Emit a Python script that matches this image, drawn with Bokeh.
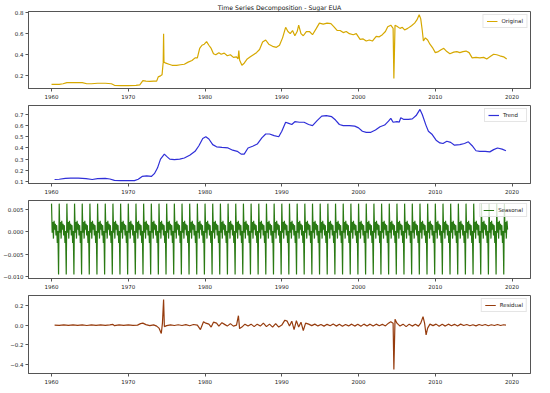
import numpy as np
from bokeh.plotting import figure
from bokeh.models import Range1d, FixedTicker, CustomJSTickFormatter, Legend, LegendItem, ColumnDataSource
from bokeh.layouts import column
from bokeh.embed import file_html
from bokeh.resources import INLINE

TITLE = "Time Series Decomposition - Sugar EUA"
X_TICKS = [1960, 1970, 1980, 1990, 2000, 2010, 2020]

# ---------------- data ----------------
orig_year = [1960.0, 1961.0, 1961.5, 1962.0, 1963.0, 1964.0, 1964.6, 1965.2, 1966.0, 1967.0, 1967.8, 1968.2,
             1969.0, 1970.0, 1971.0, 1971.5, 1971.9, 1972.3, 1972.8, 1973.3, 1973.7, 1973.9, 1974.2, 1974.4,
             1974.55, 1974.6, 1974.65, 1974.9, 1975.3, 1975.7, 1976.3, 1976.8, 1977.3, 1977.8, 1978.3, 1978.7,
             1979.0, 1979.3, 1979.6, 1979.9, 1980.2, 1980.5, 1980.8, 1981.1, 1981.4, 1981.8, 1982.1, 1982.5,
             1982.9, 1983.3, 1983.7, 1984.1, 1984.3, 1984.4, 1984.5, 1984.8, 1985.1, 1985.5, 1985.9, 1986.3,
             1986.7, 1987.1, 1987.5, 1987.9, 1988.3, 1988.8, 1989.3, 1989.7, 1990.1, 1990.5, 1990.8, 1991.1,
             1991.4, 1991.7, 1992.0, 1992.2, 1992.5, 1992.8, 1993.2, 1993.6, 1994.0, 1994.5, 1994.9, 1995.4,
             1995.9, 1996.4, 1996.8, 1997.2, 1997.6, 1998.0, 1998.4, 1998.8, 1999.3, 1999.7, 2000.2, 2000.6,
             2001.0, 2001.4, 2001.8, 2002.3, 2002.7, 2003.1, 2003.5, 2003.8, 2004.2, 2004.5, 2004.6, 2004.75,
             2005.0, 2005.4, 2005.7, 2006.0, 2006.4, 2006.9, 2007.3, 2007.6, 2007.9, 2008.1, 2008.3, 2008.45,
             2008.7, 2009.0, 2009.3, 2009.7, 2010.0, 2010.4, 2010.8, 2011.1, 2011.5, 2011.9, 2012.4, 2012.8,
             2013.2, 2013.6, 2014.0, 2014.4, 2014.8, 2015.3, 2015.8, 2016.3, 2016.7, 2017.2, 2017.6, 2018.0,
             2018.4, 2018.9, 2019.3]
orig_value = [0.12, 0.12, 0.125, 0.135, 0.135, 0.135, 0.125, 0.125, 0.13, 0.13, 0.125, 0.11,
              0.108, 0.108, 0.11, 0.115, 0.155, 0.15, 0.148, 0.15, 0.15, 0.19, 0.2, 0.21,
              0.33, 0.6, 0.33, 0.32, 0.31, 0.30, 0.30, 0.305, 0.31, 0.33, 0.345, 0.37,
              0.37, 0.46, 0.49, 0.50, 0.525, 0.49, 0.46, 0.41, 0.40, 0.42, 0.405, 0.415,
              0.39, 0.40, 0.375, 0.38, 0.36, 0.44, 0.35, 0.30, 0.32, 0.36, 0.38, 0.40,
              0.42, 0.45, 0.52, 0.54, 0.50, 0.48, 0.47, 0.49, 0.56, 0.66, 0.62, 0.60,
              0.63, 0.58, 0.62, 0.68, 0.60, 0.58, 0.62, 0.62, 0.59, 0.65, 0.70, 0.69,
              0.70, 0.695, 0.665, 0.63, 0.63, 0.61, 0.62, 0.60, 0.59, 0.60, 0.545, 0.55,
              0.53, 0.54, 0.53, 0.575, 0.57, 0.59, 0.62, 0.665, 0.68, 0.65, 0.175, 0.68,
              0.67, 0.65, 0.66, 0.635, 0.65, 0.675, 0.70, 0.73, 0.78, 0.74, 0.63, 0.53,
              0.56, 0.54, 0.50, 0.46, 0.42, 0.43, 0.45, 0.46, 0.43, 0.41, 0.425, 0.43,
              0.42, 0.43, 0.435, 0.42, 0.37, 0.375, 0.37, 0.375, 0.36, 0.385, 0.405, 0.40,
              0.39, 0.38, 0.36]

trend_year = [1960.4, 1961.0, 1961.8, 1962.5, 1963.5, 1964.5, 1965.3, 1966.0, 1967.0, 1967.6, 1968.2, 1969.0,
              1970.0, 1970.8, 1971.3, 1971.8, 1972.4, 1973.0, 1973.4, 1973.8, 1974.2, 1974.7, 1975.0, 1975.4,
              1976.0, 1976.7, 1977.3, 1978.0, 1978.7, 1979.2, 1979.7, 1980.1, 1980.5, 1981.0, 1981.5, 1982.2,
              1983.0, 1983.6, 1984.2, 1984.7, 1985.1, 1985.6, 1986.2, 1986.8, 1987.4, 1987.9, 1988.4, 1989.0,
              1989.6, 1990.0, 1990.5, 1990.9, 1991.3, 1991.7, 1992.3, 1992.9, 1993.5, 1994.0, 1994.6, 1995.2,
              1995.8, 1996.5, 1997.0, 1997.5, 1998.0, 1998.8, 1999.5, 2000.0, 2000.5, 2001.0, 2001.6, 2002.2,
              2002.8, 2003.4, 2003.9, 2004.2, 2004.5, 2005.0, 2005.3, 2005.5, 2005.9, 2006.5, 2007.0, 2007.5,
              2008.0, 2008.3, 2008.8, 2009.1, 2009.6, 2010.1, 2010.6, 2011.0, 2011.5, 2012.0, 2012.5, 2013.2,
              2013.8, 2014.3, 2014.8, 2015.3, 2015.8, 2016.5, 2017.1, 2017.6, 2018.1, 2018.7, 2019.2]
trend_value = [0.118, 0.12, 0.128, 0.13, 0.13, 0.125, 0.118, 0.125, 0.128, 0.122, 0.11, 0.107,
               0.107, 0.108, 0.12, 0.145, 0.15, 0.145, 0.17, 0.22, 0.30, 0.345, 0.325, 0.30,
               0.295, 0.30, 0.31, 0.335, 0.37, 0.42, 0.485, 0.50, 0.48, 0.43, 0.41, 0.405,
               0.40, 0.38, 0.37, 0.345, 0.345, 0.40, 0.415, 0.435, 0.49, 0.525, 0.525, 0.51,
               0.50, 0.55, 0.63, 0.62, 0.61, 0.635, 0.63, 0.63, 0.61, 0.60, 0.645, 0.685,
               0.69, 0.68, 0.65, 0.61, 0.60, 0.60, 0.595, 0.58, 0.55, 0.54, 0.54, 0.56,
               0.59, 0.605, 0.64, 0.665, 0.63, 0.635, 0.632, 0.67, 0.655, 0.655, 0.66, 0.69,
               0.745, 0.70, 0.60, 0.55, 0.52, 0.47, 0.445, 0.44, 0.46, 0.45, 0.425, 0.43,
               0.44, 0.455, 0.42, 0.375, 0.37, 0.37, 0.365, 0.385, 0.40, 0.39, 0.375]

# one year of the seasonal component (Jan..Dec); it repeats every year
seasonal_month_value = [0.0063, -0.0002, 0.0022, -0.0015, 0.0025, 0.0005,
                        0.0018, -0.0008, 0.0015, -0.0025, 0.0002, -0.0095]
seasonal_first_year = 1960
seasonal_n_months = 714

resid_year = [1960.4, 1961.0, 1961.6, 1962.2, 1962.8, 1963.4, 1964.0, 1964.6, 1965.2, 1965.8, 1966.4, 1967.0,
              1967.6, 1968.0, 1968.2, 1968.8, 1969.4, 1970.0, 1970.6, 1971.2, 1971.6, 1971.9, 1972.3, 1972.8,
              1973.3, 1973.7, 1974.0, 1974.3, 1974.45, 1974.6, 1974.7, 1975.0, 1975.5, 1976.0, 1976.5, 1977.0,
              1977.5, 1978.0, 1978.5, 1979.0, 1979.4, 1979.8, 1980.1, 1980.5, 1980.8, 1981.1, 1981.5, 1981.8,
              1982.2, 1982.6, 1982.9, 1983.3, 1983.7, 1984.1, 1984.35, 1984.5, 1984.8, 1985.2, 1985.6, 1986.0,
              1986.4, 1986.8, 1987.2, 1987.6, 1988.0, 1988.4, 1988.8, 1989.2, 1989.6, 1990.0, 1990.4, 1990.7,
              1991.0, 1991.3, 1991.6, 1991.9, 1992.2, 1992.5, 1992.8, 1993.1, 1993.5, 1993.9, 1994.3, 1994.7,
              1995.1, 1995.5, 1995.9, 1996.3, 1996.7, 1997.1, 1997.5, 1997.9, 1998.3, 1998.7, 1999.1, 1999.5,
              1999.9, 2000.3, 2000.7, 2001.1, 2001.5, 2001.9, 2002.3, 2002.7, 2003.1, 2003.5, 2003.9, 2004.2,
              2004.5, 2004.6, 2004.75, 2005.0, 2005.4, 2005.8, 2006.2, 2006.6, 2007.0, 2007.4, 2007.8, 2008.1,
              2008.4, 2008.6, 2008.8, 2009.0, 2009.3, 2009.7, 2010.1, 2010.5, 2010.9, 2011.3, 2011.7, 2012.1,
              2012.5, 2012.9, 2013.3, 2013.7, 2014.1, 2014.5, 2014.9, 2015.3, 2015.7, 2016.1, 2016.5, 2016.9,
              2017.3, 2017.7, 2018.1, 2018.5, 2018.9, 2019.2]
resid_value = [0.0, -0.003, 0.002, -0.002, 0.003, -0.002, 0.002, -0.004, 0.003, -0.002, 0.002, -0.002,
               0.003, 0.008, -0.006, 0.002, -0.002, 0.002, -0.002, 0.0, 0.015, 0.02, 0.005, -0.005,
               0.003, -0.01, -0.03, -0.085, 0.02, 0.26, -0.015, -0.005, 0.003, -0.004, 0.004, -0.004,
               0.005, -0.006, 0.006, 0.0, -0.045, 0.035, 0.02, 0.01, -0.02, 0.03, 0.02, -0.01,
               0.025, 0.005, -0.01, 0.015, -0.01, 0.0, 0.095, -0.035, -0.02, 0.01, -0.01, 0.01,
               -0.015, 0.01, -0.01, 0.02, -0.015, 0.01, -0.02, 0.015, -0.02, 0.0, 0.05, 0.04,
               -0.01, 0.04, -0.045, 0.045, -0.02, 0.03, -0.055, 0.02, 0.01, -0.005, 0.01, -0.008,
               0.006, -0.01, 0.008, -0.006, 0.012, -0.01, 0.008, -0.012, 0.006, -0.008, 0.01, -0.01,
               0.008, -0.012, 0.01, -0.008, 0.01, -0.01, 0.01, -0.006, 0.008, -0.008, 0.02, 0.035,
               0.02, -0.45, 0.06, 0.02, -0.01, 0.01, -0.015, 0.01, -0.01, 0.008, -0.01, 0.02,
               0.085, 0.02, -0.10, -0.03, 0.01, -0.005, 0.01, -0.012, 0.008, -0.01, 0.01, -0.006,
               0.008, -0.008, 0.01, -0.004, 0.006, -0.006, 0.004, -0.008, 0.006, -0.004, 0.006, -0.006,
               0.004, -0.004, 0.006, -0.004, 0.004, 0.0]

orig_ticks = [0.2, 0.4, 0.6, 0.8]
trend_ticks = [0.1, 0.2, 0.3, 0.4, 0.5, 0.6, 0.7]
seasonal_ticks = [-0.010, -0.005, 0.0, 0.005]
resid_ticks = [-0.4, -0.2, 0.0, 0.2]

# ---------------- drawing ----------------
FONT = "DejaVu Sans"
FRAME_C = "#555555"
W = 534
FRAME_H = 78
BOTTOM = 16
TOP_FIRST = 10
LEFT = 26
RIGHT = 4
x_range = Range1d(1957.0, 2022.4)

season_x = seasonal_first_year + np.arange(seasonal_n_months) / 12.0
season_y = np.tile(seasonal_month_value, seasonal_n_months // 12 + 1)[:seasonal_n_months]


def fmt(decimals):
    return CustomJSTickFormatter(code=f"return tick.toFixed({decimals}).replace('-', '\\u2212');")


def panel(xs, ys, color, label, y0, y1, yticks, decimals, title=None):
    top = TOP_FIRST if title else 1
    p = figure(width=W, height=FRAME_H + BOTTOM + top, x_range=x_range, y_range=Range1d(y0, y1),
               output_backend="svg", toolbar_location=None, title=title,
               min_border_left=LEFT, min_border_right=RIGHT, min_border_top=top, min_border_bottom=BOTTOM)
    src = ColumnDataSource(dict(x=list(xs), y=list(ys)))
    r = p.line("x", "y", source=src, line_color=color, line_width=1.2)
    p.xgrid.visible = False
    p.ygrid.visible = False
    p.outline_line_color = FRAME_C
    p.outline_line_width = 1
    p.background_fill_color = "white"
    p.border_fill_color = "white"
    for ax in (p.xaxis[0], p.yaxis[0]):
        ax.axis_line_color = FRAME_C
        ax.major_tick_line_color = FRAME_C
        ax.major_tick_in = 0
        ax.major_tick_out = 3
        ax.minor_tick_line_color = None
        ax.major_label_text_font = FONT
        ax.major_label_text_font_size = "5.5px"
        ax.major_label_text_color = "#222222"
        ax.major_label_standoff = 2
    p.xaxis[0].ticker = FixedTicker(ticks=X_TICKS)
    p.yaxis[0].ticker = FixedTicker(ticks=yticks)
    p.yaxis[0].formatter = fmt(decimals)
    if title:
        p.title.text_font = FONT
        p.title.text_font_size = "6.2px"
        p.title.text_font_style = "normal"
        p.title.text_color = "#111111"
        p.title.align = "center"
        p.title.offset = 0
        p.title.standoff = 2
    leg = Legend(items=[LegendItem(label=label, renderers=[r])], location="top_right",
                 label_text_font=FONT, label_text_font_size="5.5px", label_text_color="#222222",
                 glyph_width=11, glyph_height=6, label_height=6, label_standoff=4,
                 padding=3, spacing=0, margin=3,
                 border_line_color="#cccccc", border_line_width=1,
                 background_fill_color="white", background_fill_alpha=0.8)
    p.add_layout(leg)
    return p


p1 = panel(orig_year, orig_value, "#D6A800", "Original", 0.08, 0.81, orig_ticks, 1, title=TITLE)
p2 = panel(trend_year, trend_value, "#2F2FD8", "Trend", 0.082, 0.78, trend_ticks, 1)
p3 = panel(season_x, season_y, "#2A7A14", "Seasonal", -0.0104, 0.0070, seasonal_ticks, 3)
p4 = panel(resid_year, resid_value, "#963C0E", "Residual", -0.49, 0.30, resid_ticks, 1)

layout = column(p1, p2, p3, p4, spacing=0)
open("out.html", "w").write(file_html(layout, INLINE))
